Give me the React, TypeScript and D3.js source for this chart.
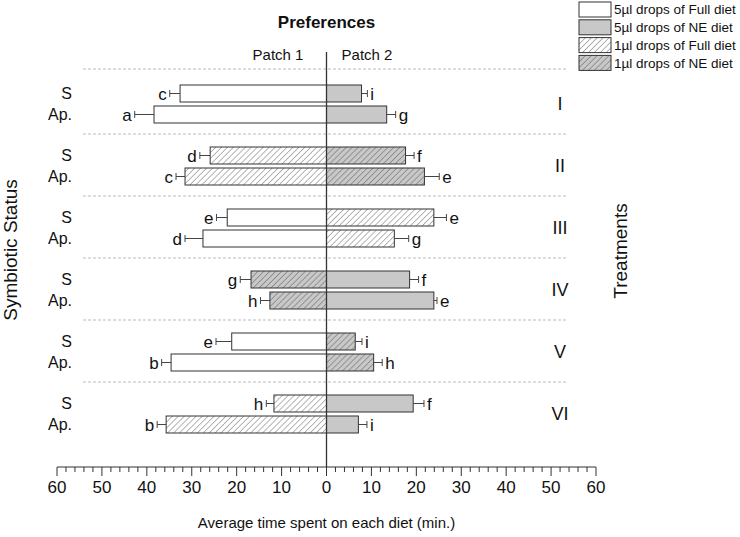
import * as d3 from "d3";

const w = 740;
const h = 537;
const font = "'Liberation Sans', Arial, sans-serif";

// data
const treatments = ["I", "II", "III", "IV", "V", "VI"];
const statuses = ["S", "Ap."];
const patch1Type = ["full5", "full1", "full5", "ne1", "full5", "full1"];
const patch2Type = ["ne5", "ne1", "full1", "ne5", "ne1", "ne5"];

const patch1S = [32.6, 25.9, 22.1, 16.8, 21.1, 11.7];
const patch1SErr = [2.3, 2.3, 2.4, 2.4, 3.5, 1.7];
const patch1SLetter = ["c", "d", "e", "g", "e", "h"];
const patch1Ap = [38.4, 31.5, 27.5, 12.6, 34.6, 35.7];
const patch1ApErr = [4.3, 2.0, 4.0, 2.1, 2.1, 2.0];
const patch1ApLetter = ["a", "c", "d", "h", "b", "b"];

const patch2S = [7.8, 17.6, 23.9, 18.5, 6.4, 19.3];
const patch2SErr = [1.3, 1.9, 2.8, 2.0, 1.5, 2.4];
const patch2SLetter = ["i", "f", "e", "f", "i", "f"];
const patch2Ap = [13.4, 21.8, 15.1, 23.9, 10.5, 7.1];
const patch2ApErr = [2.0, 3.3, 3.2, 0.7, 1.9, 1.9];
const patch2ApLetter = ["g", "e", "g", "e", "h", "i"];

const legendKeys = ["full5", "ne5", "full1", "ne1"];
const legendLabels = [
  "5µl drops of Full diet",
  "5µl drops of NE diet",
  "1µl drops of Full diet",
  "1µl drops of NE diet",
];

const fills: Record<string, string> = {
  full5: "#ffffff",
  ne5: "#c8c8c8",
  full1: "url(#hatchWhite)",
  ne1: "url(#hatchGrey)",
};

const x = d3.scaleLinear().domain([-60, 60]).range([57, 596]);
const y = d3.scaleBand().domain(treatments).range([73, 445]);
const barH = 17;
const barOff = 10.5;
const axisY = 467;

type Bar = {
  t: string;
  side: number;
  status: number;
  v: number;
  err: number;
  letter: string;
  type: string;
};

const bars: Bar[] = [];
treatments.forEach((t, i) => {
  bars.push({ t, side: -1, status: 0, v: patch1S[i], err: patch1SErr[i], letter: patch1SLetter[i], type: patch1Type[i] });
  bars.push({ t, side: -1, status: 1, v: patch1Ap[i], err: patch1ApErr[i], letter: patch1ApLetter[i], type: patch1Type[i] });
  bars.push({ t, side: 1, status: 0, v: patch2S[i], err: patch2SErr[i], letter: patch2SLetter[i], type: patch2Type[i] });
  bars.push({ t, side: 1, status: 1, v: patch2Ap[i], err: patch2ApErr[i], letter: patch2ApLetter[i], type: patch2Type[i] });
});

function cy(t: string, status: number) {
  const c = (y(t) as number) + y.bandwidth() / 2;
  return status === 0 ? c - barOff : c + barOff;
}

export default function App() {
  const majors = d3.range(-60, 61, 10);
  const minors = d3.range(-60, 61, 2);
  return (
    <svg width={w} height={h} style={{ position: "absolute", left: 0, top: 0 }} fontFamily={font}>
      <defs>
        <pattern id="hatchWhite" patternUnits="userSpaceOnUse" width={4.2} height={4.2} patternTransform="rotate(45)">
          <rect width={4.2} height={4.2} fill="#fff" />
          <line x1={0} y1={0} x2={0} y2={4.2} stroke="#444" strokeWidth={0.8} />
        </pattern>
        <pattern id="hatchGrey" patternUnits="userSpaceOnUse" width={4.2} height={4.2} patternTransform="rotate(45)">
          <rect width={4.2} height={4.2} fill="#c8c8c8" />
          <line x1={0} y1={0} x2={0} y2={4.2} stroke="#444" strokeWidth={0.8} />
        </pattern>
      </defs>

      {/* separators */}
      {treatments.map((t, i) => (
        <line
          key={t}
          x1={83}
          x2={566}
          y1={(y(t) as number) - (i === 0 ? 4 : 1)}
          y2={(y(t) as number) - (i === 0 ? 4 : 1)}
          stroke="#bbb"
          strokeDasharray="3,2"
        />
      ))}

      {/* bars */}
      {bars.map((b, i) => {
        const x0 = x(0);
        const x1 = x(b.side * b.v);
        const xe = x(b.side * (b.v + b.err));
        const yc = cy(b.t, b.status);
        return (
          <g key={i}>
            <rect
              x={Math.min(x0, x1)}
              y={yc - barH / 2}
              width={Math.abs(x1 - x0)}
              height={barH}
              fill={fills[b.type]}
              stroke="#333"
              strokeWidth={1}
            />
            <line x1={x1} x2={xe} y1={yc} y2={yc} stroke="#444" />
            <line x1={xe} x2={xe} y1={yc - 3.5} y2={yc + 3.5} stroke="#444" />
            <text
              x={xe + b.side * 3}
              y={yc}
              dy="0.36em"
              fontSize={17}
              textAnchor={b.side < 0 ? "end" : "start"}
              fill="#111"
            >
              {b.letter}
            </text>
          </g>
        );
      })}

      {/* centre line */}
      <line x1={x(0)} x2={x(0)} y1={52} y2={axisY} stroke="#333" strokeWidth={1.3} />

      {/* status labels and treatment numerals */}
      {treatments.map((t) => (
        <g key={t}>
          {statuses.map((s, si) => (
            <text key={s} x={72} y={cy(t, si)} dy="0.36em" fontSize={16} textAnchor="end" fill="#111">
              {s}
            </text>
          ))}
          <text x={560} y={(y(t) as number) + y.bandwidth() / 2} dy="0.36em" fontSize={18} textAnchor="middle" fill="#111">
            {t}
          </text>
        </g>
      ))}

      {/* x axis */}
      <line x1={x(-60)} x2={x(60)} y1={axisY} y2={axisY} stroke="#333" strokeWidth={1.2} />
      {minors.map((v) => (
        <line key={"m" + v} x1={x(v)} x2={x(v)} y1={axisY} y2={axisY + (v % 10 === 0 ? 9 : 5)} stroke="#333" />
      ))}
      {majors.map((v) => (
        <text key={"l" + v} x={x(v)} y={axisY + 20} dy="0.36em" fontSize={17} textAnchor="middle" fill="#111">
          {Math.abs(v)}
        </text>
      ))}
      <text x={x(0)} y={523} dy="0.36em" fontSize={15} textAnchor="middle" fill="#111">
        Average time spent on each diet (min.)
      </text>

      {/* titles */}
      <text x={x(0)} y={28} fontSize={17} fontWeight="bold" textAnchor="middle" fill="#111">
        Preferences
      </text>
      <text x={278} y={60} fontSize={15} textAnchor="middle" fill="#111">
        Patch 1
      </text>
      <text x={367} y={60} fontSize={15} textAnchor="middle" fill="#111">
        Patch 2
      </text>
      <text transform="translate(17,250) rotate(-90)" fontSize={19} textAnchor="middle" fill="#111">
        Symbiotic Status
      </text>
      <text transform="translate(627,251) rotate(-90)" fontSize={19} textAnchor="middle" fill="#111">
        Treatments
      </text>

      {/* legend */}
      {legendKeys.map((k, i) => (
        <g key={k} transform={`translate(579,${2 + i * 17.8})`}>
          <rect width={32} height={15} fill={fills[k]} stroke="#333" />
          <text x={35} y={7.5} dy="0.36em" fontSize={13.5} fill="#111">
            {legendLabels[i]}
          </text>
        </g>
      ))}
    </svg>
  );
}
